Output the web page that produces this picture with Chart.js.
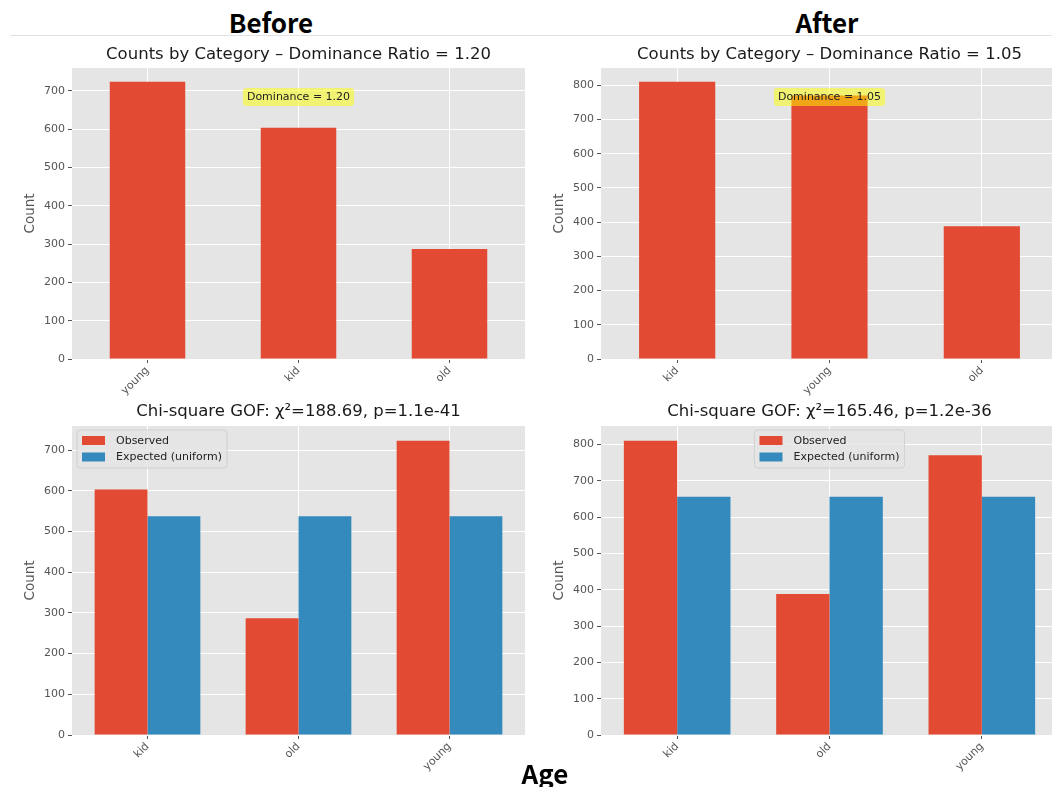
<!DOCTYPE html>
<html>
<head>
<meta charset="utf-8">
<script src="https://cdn.jsdelivr.net/npm/chart.js@4.4.1/dist/chart.umd.min.js"></script>
<style>
  html, body { margin: 0; padding: 0; background: #ffffff; width: 1052px; height: 787px; overflow: hidden; }
  .panel { position: absolute; }
  .panel canvas { display: block; }
  .head {
    position: absolute; transform: translate(-50%, -50%); white-space: nowrap; line-height: 1;
    font-family: "Noto Sans CJK SC", "Noto Sans", sans-serif; font-weight: bold; font-size: 26px; color: #000;
  }
  #rule { position: absolute; left: 10px; top: 35px; width: 1042px; height: 1px; background: #e2e2e2; }
</style>
</head>
<body>
<div class="head" style="left:271px;top:22px">Before</div>
<div class="head" style="left:827px;top:22px">After</div>
<div id="rule"></div>

<div class="panel" style="left:0;top:40px"><canvas id="countsBefore" width="530" height="360"></canvas></div>
<div class="panel" style="left:530px;top:40px"><canvas id="countsAfter" width="530" height="360"></canvas></div>
<div class="panel" style="left:0;top:395px"><canvas id="gofBefore" width="530" height="392"></canvas></div>
<div class="panel" style="left:530px;top:395px"><canvas id="gofAfter" width="530" height="392"></canvas></div>

<div class="head" style="left:545px;top:773px">Age</div>

<script>
// ---- data ----
const beforeCategories = ['young', 'kid', 'old'];
const beforeCounts = [723, 603, 287];

const afterCategories = ['kid', 'young', 'old'];
const afterCounts = [810, 770, 388];

const gofCategories = ['kid', 'old', 'young'];
const beforeObserved = [603, 287, 723];
const beforeExpected = [537.67, 537.67, 537.67];
const afterObserved = [810, 388, 770];
const afterExpected = [656, 656, 656];

const countsTitleBefore = 'Counts by Category \u2013 Dominance Ratio = 1.20';
const countsTitleAfter = 'Counts by Category \u2013 Dominance Ratio = 1.05';
const gofTitleBefore = 'Chi-square GOF: \u03c7\u00b2=188.69, p=1.1e-41';
const gofTitleAfter = 'Chi-square GOF: \u03c7\u00b2=165.46, p=1.2e-36';

const seriesLabels = ['Observed', 'Expected (uniform)'];
const yAxisLabel = 'Count';

// ---- style ----
const FONT = '"DejaVu Sans", sans-serif';
const RED = '#E24A33';
const BLUE = '#348ABD';
const PANEL_BG = '#E5E5E5';
const TICK_GREY = '#555555';
const TICK_SIZE = 11;

Chart.defaults.font.family = FONT;
Chart.defaults.devicePixelRatio = 1;

// grey plotting area behind the grid
const plotBackground = {
  id: 'plotBackground',
  beforeDraw(chart) {
    const { ctx, chartArea: a } = chart;
    ctx.save();
    ctx.fillStyle = PANEL_BG;
    ctx.fillRect(a.left, a.top, a.right - a.left, a.bottom - a.top);
    ctx.restore();
  }
};

// axes title, centred over the plotting area
const axesTitle = {
  id: 'axesTitle',
  afterDraw(chart, args, opts) {
    if (!opts || !opts.text) return;
    const { ctx, chartArea: a } = chart;
    ctx.save();
    ctx.font = '16.5px ' + FONT;
    ctx.fillStyle = '#1a1a1a';
    ctx.textAlign = 'center';
    ctx.textBaseline = 'middle';
    ctx.fillText(opts.text, (a.left + a.right) / 2, a.top - opts.gap);
    ctx.restore();
  }
};

function roundedRect(ctx, x, y, w, h, r) {
  ctx.beginPath();
  ctx.moveTo(x + r, y);
  ctx.lineTo(x + w - r, y);
  ctx.quadraticCurveTo(x + w, y, x + w, y + r);
  ctx.lineTo(x + w, y + h - r);
  ctx.quadraticCurveTo(x + w, y + h, x + w - r, y + h);
  ctx.lineTo(x + r, y + h);
  ctx.quadraticCurveTo(x, y + h, x, y + h - r);
  ctx.lineTo(x, y + r);
  ctx.quadraticCurveTo(x, y, x + r, y);
  ctx.closePath();
}

// yellow note box with the dominance ratio of the two largest bars
const dominanceNote = {
  id: 'dominanceNote',
  afterDatasetsDraw(chart, args, opts) {
    if (!opts || !opts.show) return;
    const vals = chart.data.datasets[0].data.slice().sort((p, q) => q - p);
    const text = 'Dominance = ' + (vals[0] / vals[1]).toFixed(2);
    const { ctx, chartArea: a } = chart;
    ctx.save();
    ctx.font = '11px ' + FONT;
    const tw = ctx.measureText(text).width;
    const w = tw + 8, h = 18;
    const cx = (a.left + a.right) / 2;
    const cy = a.top + 0.1 * (a.bottom - a.top);
    roundedRect(ctx, cx - w / 2, cy - h / 2, w, h, 3.5);
    ctx.fillStyle = 'rgba(255,255,0,0.5)';
    ctx.fill();
    ctx.fillStyle = '#222';
    ctx.textAlign = 'center';
    ctx.textBaseline = 'middle';
    ctx.fillText(text, cx, cy + 0.5);
    ctx.restore();
  }
};

// in-axes legend box
const boxLegend = {
  id: 'boxLegend',
  afterDatasetsDraw(chart, args, opts) {
    if (!opts || !opts.show) return;
    const { ctx, chartArea: a } = chart;
    ctx.save();
    ctx.font = '11px ' + FONT;
    const labels = chart.data.datasets.map(d => d.label);
    const tw = Math.max(...labels.map(t => ctx.measureText(t).width));
    const w = tw + 44, h = 38;
    const x = opts.align === 'center' ? (a.left + a.right) / 2 - w / 2 : a.left + 5;
    const y = a.top + 4;
    roundedRect(ctx, x, y, w, h, 3);
    ctx.fillStyle = 'rgba(229,229,229,0.8)';
    ctx.fill();
    ctx.strokeStyle = 'rgba(204,204,204,0.8)';
    ctx.lineWidth = 1;
    ctx.stroke();
    chart.data.datasets.forEach((d, i) => {
      const rowY = y + 10.5 + i * 16.5;
      ctx.fillStyle = d.backgroundColor;
      ctx.fillRect(x + 5, rowY - 4.5, 23, 9);
      ctx.fillStyle = '#222';
      ctx.textAlign = 'left';
      ctx.textBaseline = 'middle';
      ctx.fillText(d.label, x + 39, rowY + 0.5);
    });
    ctx.restore();
  }
};

function xScale(height) {
  return {
    type: 'category',
    offset: true,
    ticks: {
      color: TICK_GREY, font: { family: FONT, size: TICK_SIZE },
      minRotation: 45, maxRotation: 45, autoSkip: false, padding: 1
    },
    grid: { color: '#ffffff', lineWidth: 1, offset: false, tickColor: TICK_GREY, tickLength: 4 },
    border: { display: false },
    afterFit(s) { s.height = height; }
  };
}

function yScale(max, width) {
  return {
    min: 0,
    max: max,
    ticks: {
      stepSize: 100, includeBounds: false, color: TICK_GREY,
      font: { family: FONT, size: TICK_SIZE }, padding: 3
    },
    grid: { color: '#ffffff', lineWidth: 1, tickColor: TICK_GREY, tickLength: 4 },
    border: { display: false },
    title: {
      display: true, text: yAxisLabel, color: TICK_GREY,
      font: { family: FONT, size: 13.5 }, padding: { top: width - 50, bottom: 0 }
    },
    afterFit(s) { s.width = width; }
  };
}

function countsChart(id, categories, counts, title, yWidth, padRight) {
  return new Chart(document.getElementById(id), {
    type: 'bar',
    data: {
      labels: categories,
      datasets: [{ data: counts, backgroundColor: RED, barPercentage: 0.5, categoryPercentage: 1.0, borderWidth: 0 }]
    },
    options: {
      responsive: false, animation: false,
      layout: { padding: { left: 0, right: padRight, top: 28, bottom: 0 } },
      scales: { x: xScale(41), y: yScale(Math.max(...counts) * 1.05, yWidth) },
      plugins: {
        legend: { display: false }, tooltip: { enabled: false }, title: { display: false },
        axesTitle: { text: title, gap: 13 },
        dominanceNote: { show: true }
      }
    },
    plugins: [plotBackground, dominanceNote, axesTitle]
  });
}

function gofChart(id, categories, observed, expected, title, yWidth, padRight, legendAlign) {
  return new Chart(document.getElementById(id), {
    type: 'bar',
    data: {
      labels: categories,
      datasets: [
        { label: seriesLabels[0], data: observed, backgroundColor: RED, barPercentage: 1.0, categoryPercentage: 0.7, borderWidth: 0 },
        { label: seriesLabels[1], data: expected, backgroundColor: BLUE, barPercentage: 1.0, categoryPercentage: 0.7, borderWidth: 0 }
      ]
    },
    options: {
      responsive: false, animation: false,
      layout: { padding: { left: 0, right: padRight, top: 31, bottom: 0 } },
      scales: { x: xScale(52), y: yScale(Math.max(...observed, ...expected) * 1.05, yWidth) },
      plugins: {
        legend: { display: false }, tooltip: { enabled: false }, title: { display: false },
        axesTitle: { text: title, gap: 14 },
        boxLegend: { show: true, align: legendAlign }
      }
    },
    plugins: [plotBackground, boxLegend, axesTitle]
  });
}

countsChart('countsBefore', beforeCategories, beforeCounts, countsTitleBefore, 72, 5);
countsChart('countsAfter', afterCategories, afterCounts, countsTitleAfter, 71, 2);
gofChart('gofBefore', gofCategories, beforeObserved, beforeExpected, gofTitleBefore, 72, 5, 'left');
gofChart('gofAfter', gofCategories, afterObserved, afterExpected, gofTitleAfter, 71, 2, 'center');
</script>
</body>
</html>
